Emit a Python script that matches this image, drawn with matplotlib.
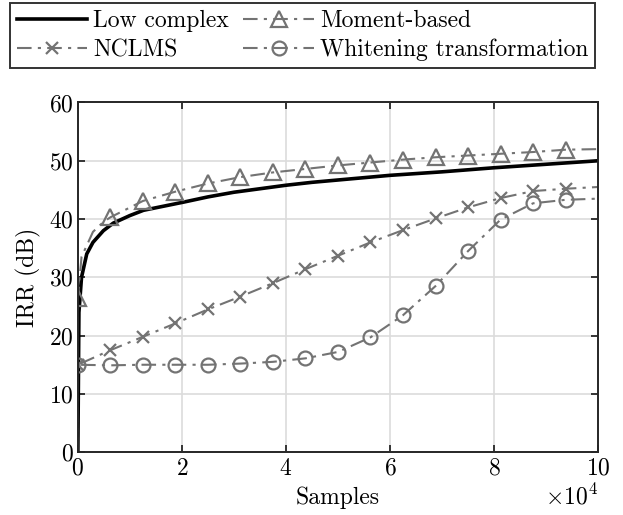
import matplotlib
matplotlib.use("Agg")
import matplotlib.pyplot as plt
from matplotlib.ticker import ScalarFormatter

plt.rcParams['font.family'] = 'serif'
plt.rcParams['font.serif'] = ['cmr10']
plt.rcParams['mathtext.fontset'] = 'cm'
plt.rcParams['axes.unicode_minus'] = False
plt.rcParams['axes.formatter.use_mathtext'] = True

# curves (samples, IRR in dB)
low_x = [0, 200, 700, 1700, 2900, 4900, 6800, 10000, 12600, 20300, 25000,
         30000, 35000, 40000, 45000, 50000, 60000, 70000, 80000, 90000, 100000]
low_y = [0, 24, 30, 34, 36, 38, 39.3, 40.6, 41.5, 42.9, 43.8,
         44.6, 45.2, 45.8, 46.3, 46.7, 47.5, 48.1, 48.8, 49.4, 50.0]

# marked series: markers sit on the 6250-sample grid
mark_x = [0, 6250, 12500, 18750, 25000, 31250, 37500, 43750, 50000,
          56250, 62500, 68750, 75000, 81250, 87500, 93750, 100000]
moment_y = [26.5, 40.3, 43.1, 44.7, 46.1, 47.2, 48.0, 48.6, 49.2,
            49.7, 50.2, 50.6, 50.9, 51.2, 51.5, 51.9, 52.0]
nclms_y = [15.0, 17.5, 19.8, 22.1, 24.5, 26.7, 29.0, 31.4, 33.7,
           36.0, 38.1, 40.1, 42.0, 43.6, 44.8, 45.2, 45.5]
white_y = [15.0, 14.9, 15.0, 15.0, 15.0, 15.2, 15.5, 16.1, 17.2,
           19.7, 23.5, 28.5, 34.5, 39.9, 42.7, 43.3, 43.5]

# extra early points of the moment-based curve (between first two markers)
moment_early_x = [700, 2900, 4900]
moment_early_y = [33.5, 37.8, 39.5]

grey = '#737373'
dash = (0, (7, 3, 1.5, 3))
fs = 17

fig = plt.figure(figsize=(6.23, 5.15), dpi=100)
ax = fig.add_axes([0.125, 0.122, 0.835, 0.679])

h_low, = ax.plot(low_x, low_y, color='black', lw=2.6, label='Low complex')

mx = [0, mark_x[0]] + moment_early_x + mark_x[1:]
my = [0, moment_y[0]] + moment_early_y + moment_y[1:]
n_early = len(moment_early_x)
mom_marks = [1] + list(range(2 + n_early, 2 + n_early + 15))
h_mom, = ax.plot(mx, my, color=grey, lw=1.5, ls=dash,
                 marker='^', ms=11, mfc='none', mew=1.6, markevery=mom_marks,
                 label='Moment-based')

marked = list(range(1, 17))
h_ncl, = ax.plot([0] + mark_x, [0] + nclms_y, color=grey, lw=1.5, ls=dash,
                 marker='x', ms=8, mew=1.6, markevery=marked, label='NCLMS')
h_wht, = ax.plot([0] + mark_x, [0] + white_y, color=grey, lw=1.5, ls=dash,
                 marker='o', ms=10, mfc='none', mew=1.6, markevery=marked,
                 label='Whitening transformation')

ax.set_xlim(0, 100000)
ax.set_ylim(0, 60)
ax.set_xticks([0, 20000, 40000, 60000, 80000, 100000])
ax.set_yticks(range(0, 61, 10))
fmt = ScalarFormatter(useMathText=True)
fmt.set_powerlimits((4, 4))
ax.xaxis.set_major_formatter(fmt)
ax.grid(True, color='#dcdcdc', lw=1.2)
ax.set_axisbelow(True)
ax.tick_params(direction='in', top=True, right=True, length=5, width=1.3,
               labelsize=fs, color='#262626')
ax.tick_params(axis='y', pad=3)
ax.tick_params(axis='x', pad=4)
for s in ax.spines.values():
    s.set_linewidth(1.4)
    s.set_color('#262626')
ax.set_xlabel('Samples', fontsize=fs, labelpad=5)
ax.set_ylabel('IRR (dB)', fontsize=fs, labelpad=6)
ax.xaxis.get_offset_text().set_fontsize(fs)

# row-wise order: matplotlib fills legend columns first
leg = fig.legend([h_low, h_ncl, h_mom, h_wht],
                 ['Low complex', 'NCLMS', 'Moment-based', 'Whitening transformation'],
                 loc='upper left', bbox_to_anchor=(0.016, 0.994), ncol=2,
                 fontsize=fs, frameon=True, fancybox=False, handlelength=3.0,
                 handletextpad=0.25, columnspacing=0.6, borderpad=0.28,
                 labelspacing=0.3, borderaxespad=0)
leg.get_frame().set_edgecolor('black')
leg.get_frame().set_linewidth(1.4)

fig.savefig('out.png', dpi=100)
